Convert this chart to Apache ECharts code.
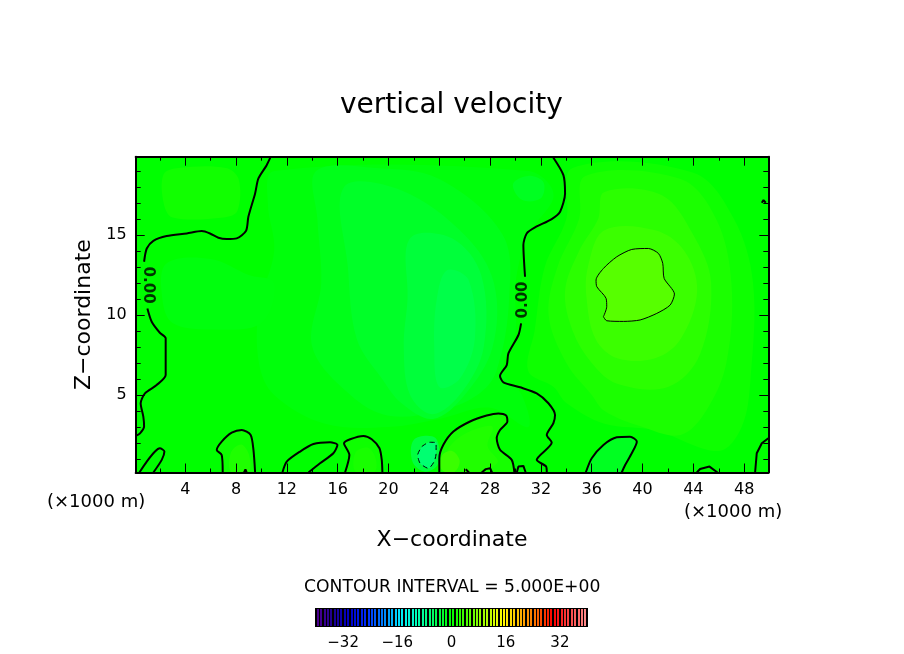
<!DOCTYPE html>
<html><head><meta charset="utf-8">
<style>html,body{margin:0;padding:0;background:#fff}#c{width:904px;height:654px}</style>
<script src="https://cdn.jsdelivr.net/npm/echarts@6/dist/echarts.min.js"></script>
</head><body><div id="c"></div>
<script>
// ---- axes (km)
const xRange = [0.1, 49.9];
const zRange = [0.15, 19.9];
const xMajor = [4,8,12,16,20,24,28,32,36,40,44,48];
const xMinor = [2,6,10,14,18,22,26,30,34,38,42,46];
const zMajor = [5,10,15];
const zMinor = [1,2,3,4,6,7,8,9,11,12,13,14,16,17,18,19];
const barTicks = [-32,-16,0,16,32];
const barValues = [];
for (let v = -39.5; v < 40; v += 1) barValues.push(v);
const colorStops = ['#500090','#1c0090','#0000c8','#0030ff','#0080ff','#00ecff','#00ffb6','#00ff5b','#00ff00','#55ff00','#aaff00','#ffff00','#ffb800','#ff6a00','#ff0000','#ff4848','#ff9090'];

// ---- contour lines [x km, z km]
const zeroA = [[0.76,13.33],[0.97,14.16],[1.49,14.64],[2.54,14.94],[4.12,15.1],[5.3,15.25],[5.95,15.1],[6.61,14.83],[7.27,14.75],[8.05,14.79],[8.79,15.27],[8.97,16.14],[9.5,17.6],[9.76,18.54],[10.41,19.37],[10.73,19.9]];
const zeroB = [[1.02,10.41],[1.36,9.58],[2.0,8.89],[2.46,8.54],[2.46,6.25],[1.75,5.62],[0.83,5.1],[0.49,4.48],[0.7,3.64],[0.76,3.02],[0.44,2.6],[0.1,2.44]];
const zeroC = [[0.39,0.15],[0.97,0.83],[1.62,1.46],[2.0,1.66],[2.36,1.46],[2.15,0.94],[1.49,0.15]];
const zeroD = [[6.95,0.15],[6.87,1.25],[6.48,1.56],[6.87,2.08],[7.66,2.64],[8.45,2.81],[9.15,2.5],[9.37,1.56],[9.5,0.15]];
const zeroD2 = [[8.63,0.15],[8.74,0.35],[8.84,0.15]];
const zeroE = [[11.65,0.15],[11.99,0.83],[13.04,1.46],[14.09,1.93],[15.4,2.04],[15.98,1.87],[15.66,1.35],[14.61,0.73],[13.7,0.15]];
const zeroF = [[16.58,0.15],[16.92,1.25],[16.5,1.98],[16.98,2.23],[18.03,2.44],[18.68,2.23],[19.29,1.67],[19.47,0.94],[19.52,0.15]];
const zeroG = [[24.0,0.15],[24.0,1.04],[24.32,1.88],[25.11,2.71],[26.42,3.34],[27.73,3.71],[28.65,3.84],[29.26,3.71],[29.36,3.34],[28.78,2.81],[28.52,2.29],[28.78,1.57],[29.7,0.94],[29.91,0.15]];
const zeroG2 = [[30.1,0.15],[30.23,0.52],[30.62,0.56],[30.8,0.15]];
const zeroG3 = [[27.34,0.15],[27.66,0.36],[28.0,0.42],[28.15,0.15]];
const zeroG4 = [[26.08,0.35],[26.34,0.15]];
const zeroH = [[32.93,19.9],[33.77,18.75],[33.9,17.6],[33.51,16.46],[32.85,16],[31.54,15.48],[30.88,15.1],[30.62,14.37],[30.75,12.39]];
const zeroI = [[30.44,9.48],[30.23,8.75],[29.44,7.6],[29.31,6.87],[28.78,6.19],[29.05,5.79],[30.36,5.48],[31.67,5.1],[32.59,4.48],[33.11,3.75],[32.98,3.23],[32.46,2.5],[32.85,2.02],[31.67,0.94],[32.41,0.52],[32.46,0.15]];
const zeroJ = [[35.53,0.15],[36,1.04],[36.92,1.87],[37.97,2.35],[39.02,2.39],[39.55,2.08],[39.15,1.35],[38.63,0.62],[38.36,0.15]];
const zeroK = [[48.86,0.15],[48.99,1.35],[49.39,1.98],[49.9,2.29]];
const zeroL = [[44.27,0.15],[44.53,0.37],[45.27,0.52],[45.9,0.15]];
const zeroM = [[49.39,17.02],[49.52,17.19],[49.7,17.02]];
const zeroContours = [zeroA,zeroB,zeroC,zeroD,zeroD2,zeroE,zeroF,zeroG,zeroG2,zeroG3,zeroG4,zeroH,zeroI,zeroJ,zeroK,zeroL,zeroM];
const plusFive = [[36.92,9.89],[37.18,10.52],[37.13,11.04],[36.4,11.77],[36.34,12.19],[36.92,12.91],[37.97,13.64],[39.15,14.1],[40.46,14.16],[41.25,13.85],[41.59,13.23],[41.7,12.29],[42.51,11.31],[42.17,10.62],[41.12,10.1],[39.81,9.69],[38.5,9.6],[37.18,9.64],[36.92,9.89]];
const minusFive = [[22.62,1.77],[23.22,2.04],[23.75,2.02],[23.75,1.35],[23.59,0.83],[23.14,0.41],[22.49,0.73],[22.3,1.25],[22.62,1.77]];
const contourLabelLeft = [[1.05,11.87]];
const contourLabelRight = [[30.6,10.94]];

// ---- shaded bands of the field: level and outline [x km, z km]
const bgBand = [[0.1,0.15],[49.9,0.15],[49.9,19.9],[0.1,19.9]];
const posA = [[34.5,19.2],[44,18.9],[47.2,16],[48.7,12],[48.5,6],[47.8,3],[46,1.5],[41,2.8],[37,3.2],[34,4.5],[33,5.5],[31,6.5],[31.5,9],[32.3,13],[34,16]];
const posB = [[35.5,18.7],[43,18.5],[45.8,16],[47,12],[46.6,7],[45,4],[43,2.5],[40,3],[37,4],[36,5],[34,7],[32.6,10],[33.3,13],[35,16]];
const posC = [[37,17.7],[41.5,17.5],[44,15],[45.4,12],[44.5,7.5],[42,5.5],[38,5.7],[36,7],[34.5,9],[33.9,11.5],[35,14],[36.5,16]];
const posD = [[37,15.3],[41,15.3],[43.3,14],[44.3,11.5],[43,8.5],[41,7.3],[38,7.3],[36.3,8.5],[35.6,11],[35.7,13]];
const posTopLeft = [[2.3,18.8],[3.5,19.2],[7.2,19.2],[8.2,18.5],[8.1,16.5],[7,16.1],[3,16.1],[2.3,17]];
const posBig = [[24.6,0.15],[24.6,1.4],[25.5,2.3],[27,2.9],[28.2,3],[27.8,1.8],[28.6,0.8],[27,0.15]];
const posBigCore = [[24.2,0.3],[24.2,1.2],[25,1.5],[25.6,0.9],[25.2,0.2]];
const posEight = [[7.6,0.2],[7.6,1.4],[8.4,1.9],[9,1.3],[9,0.2]];
const posEighteen = [[17.4,0.2],[17.4,1.4],[18.4,1.7],[19,1],[18.9,0.2]];
const negA = [[11,19],[31,19],[33,17.5],[31,15],[30,12],[30,9],[29,6.5],[30.5,5],[31,3],[28,4.2],[24,3.5],[20,3],[15,3.2],[11,5],[9.8,7],[9.8,10.5],[11,14],[10.5,17]];
const negLobe = [[2.5,13.2],[6,13.5],[9,12.5],[11,12],[10,9.5],[6,9.1],[3,9.5],[2.2,11]];
const negB = [[14.3,19],[19,19.2],[24,18.5],[29,15],[29.5,11],[28.5,6.5],[27,5],[24,4],[20,3.7],[17,5],[14,8],[14.7,12],[14.4,16]];
const negC = [[16.5,18],[21,17.8],[26,15],[28.3,12],[28.2,8],[26,5],[23.5,3.5],[21,4.5],[19.5,6],[17.5,8.5],[16.8,13]];
const negD = [[21.7,14.8],[25,14.8],[27.3,12.5],[27.5,8],[25.8,5.2],[23.5,3.8],[21.7,5],[21.2,8],[21.5,11]];
const negE = [[24.6,12.8],[26.3,12.2],[26.8,8.5],[25.6,6],[24,5.5],[23.6,8],[23.8,11]];
const negTop = [[29.8,18.2],[31,18.7],[32.2,18.3],[32,17.3],[30.5,17.2]];
const negSpot = [[22,2.2],[23.7,2.3],[23.9,0.7],[22.9,0.2],[21.9,0.8]];
const bandOutlines = [bgBand,posA,posB,posC,posD,plusFive,posTopLeft,negA,negLobe,negB,negC,negD,negE,negTop,zeroD,zeroF,zeroG,zeroJ,posBig,posBigCore,posEight,posEighteen,negSpot,minusFive];
const bandLevels   = [0,     0.8, 1.6, 2.5, 3.5, 5.1,     1.0,       -0.6,-0.7,  -1.4,-2.2,-3.2,-4.0,-1.8,  0.8,  0.8,  1.3,  -1.8, 1.9,   3.4,      1.8,     1.4,        -3.4,   -6.2];

const lineSeries = (pts, width, type) => ({
  type:'line', data:pts, symbol:'none', silent:true, animation:false, z:5, smooth:pts.length>4?0.25:false,
  lineStyle:{color:'#000', width:width, type:type}, xAxisIndex:0, yAxisIndex:0
});
const labelSeries = (pts, rot) => ({
  type:'scatter', data:pts, symbolSize:1, itemStyle:{color:'transparent'}, silent:true, animation:false, z:6,
  xAxisIndex:0, yAxisIndex:0,
  label:{show:true, position:'inside', formatter:'0.00', rotate:rot, color:'#000',
    fontFamily:'DejaVu Sans', fontSize:15, fontWeight:'bold'}
});
const font = 'DejaVu Sans';
const mkX = (pos, vals, len, labels, extra) => Object.assign({
  type:'value', gridIndex:0, position:pos, min:xRange[0], max:xRange[1], z:8,
  axisLine:{show:labels, onZero:false, lineStyle:{color:'#000',width:2}},
  axisTick:{show:true, inside:true, length:len, customValues:vals, lineStyle:{color:'#000',width:1}},
  axisLabel:labels ? {show:true, customValues:vals, margin:9, color:'#000', fontFamily:font, fontSize:16} : {show:false},
  splitLine:{show:false}
}, extra||{});
const mkZ = (pos, vals, len, labels, extra) => Object.assign({
  type:'value', gridIndex:0, position:pos, min:zRange[0], max:zRange[1], z:8,
  axisLine:{show:labels, onZero:false, lineStyle:{color:'#000',width:2}},
  axisTick:{show:true, inside:true, length:len, customValues:vals, lineStyle:{color:'#000',width:1}},
  axisLabel:labels ? {show:true, customValues:vals, margin:9, color:'#000', fontFamily:font, fontSize:16} : {show:false},
  splitLine:{show:false}
}, extra||{});

const option = {
  animation:false,
  backgroundColor:'#fff',
  title:[{text:'vertical velocity', left:335, top:87,
    textStyle:{fontFamily:font,fontWeight:'normal',fontSize:28,color:'#000'}}],
  grid:[
    {left:135.7, top:156.7, width:632.6, height:315.8},
    {left:316, top:609, width:271, height:17, show:true, backgroundColor:'#000', borderColor:'#000', borderWidth:2}
  ],
  visualMap:[{show:false, type:'continuous', min:-40, max:40, dimension:0, seriesIndex:[0,1], inRange:{color:colorStops}}],
  xAxis:[
    mkX('bottom',xMajor,9,true,{name:'X\u2212coordinate',nameLocation:'middle',nameGap:57,
      nameTextStyle:{fontFamily:font,fontSize:22,color:'#000'}}),
    mkX('bottom',xMinor,4,false),
    mkX('top',xMajor,9,true,{axisLabel:{show:false}}),
    mkX('top',xMinor,4,false),
    {type:'value', gridIndex:1, position:'bottom', min:-40, max:40, axisLine:{show:false}, axisTick:{show:false},
      axisLabel:{show:true, customValues:barTicks, margin:10, color:'#000', fontFamily:font, fontSize:15,
        formatter:v=>String(v).replace('-','\u2212')}, splitLine:{show:false}}
  ],
  yAxis:[
    mkZ('left',zMajor,9,true,{name:'Z\u2212coordinate',nameLocation:'middle',nameGap:40,nameRotate:90,
      nameTextStyle:{fontFamily:font,fontSize:22,color:'#000'}}),
    mkZ('left',zMinor,5,false),
    mkZ('right',zMajor,9,true,{axisLabel:{show:false}}),
    mkZ('right',zMinor,5,false),
    {type:'value', gridIndex:1, min:0, max:1, show:false}
  ],
  graphic:[
    {type:'text', left:47, top:493, style:{text:'(\u00d71000 m)', fill:'#000', font:'18px "DejaVu Sans"'}},
    {type:'text', left:684, top:503, style:{text:'(\u00d71000 m)', fill:'#000', font:'18px "DejaVu Sans"'}},
    {type:'text', left:304, top:579, style:{text:'CONTOUR INTERVAL = 5.000E+00', fill:'#000', font:'17.2px "DejaVu Sans"'}}
  ],
  series:[
    {type:'custom', xAxisIndex:0, yAxisIndex:0, clip:true, silent:true, z:1,
      data:bandLevels.map(v=>[v]),
      renderItem:(p,api)=>({type:'polygon',
        shape:{points:bandOutlines[p.dataIndex].map(q=>api.coord(q)), smooth:p.dataIndex===0||p.dataIndex===5||(p.dataIndex>=14&&p.dataIndex<=17)?0:0.35},
        style:{fill:api.visual('color')}})},
    {type:'custom', xAxisIndex:4, yAxisIndex:4, silent:true, z:2,
      data:barValues.map(v=>[v]),
      renderItem:(p,api)=>{
        const v=api.value(0), a=api.coord([v-0.28,1]), b=api.coord([v+0.28,0]);
        return {type:'rect', shape:{x:Math.round(a[0]),y:a[1],width:Math.max(1,Math.round(b[0]-a[0])),height:b[1]-a[1]},
          style:{fill:api.visual('color')}};
      }},
    ...zeroContours.map(c=>lineSeries(c,2,'solid')),
    lineSeries(plusFive,1,'solid'),
    lineSeries(minusFive,1,[5,4]),
    labelSeries(contourLabelLeft,-90),
    labelSeries(contourLabelRight,90)
  ]
};
const chart = echarts.init(document.getElementById('c'),null,{renderer:'canvas'});
chart.setOption(option);
</script></body></html>
